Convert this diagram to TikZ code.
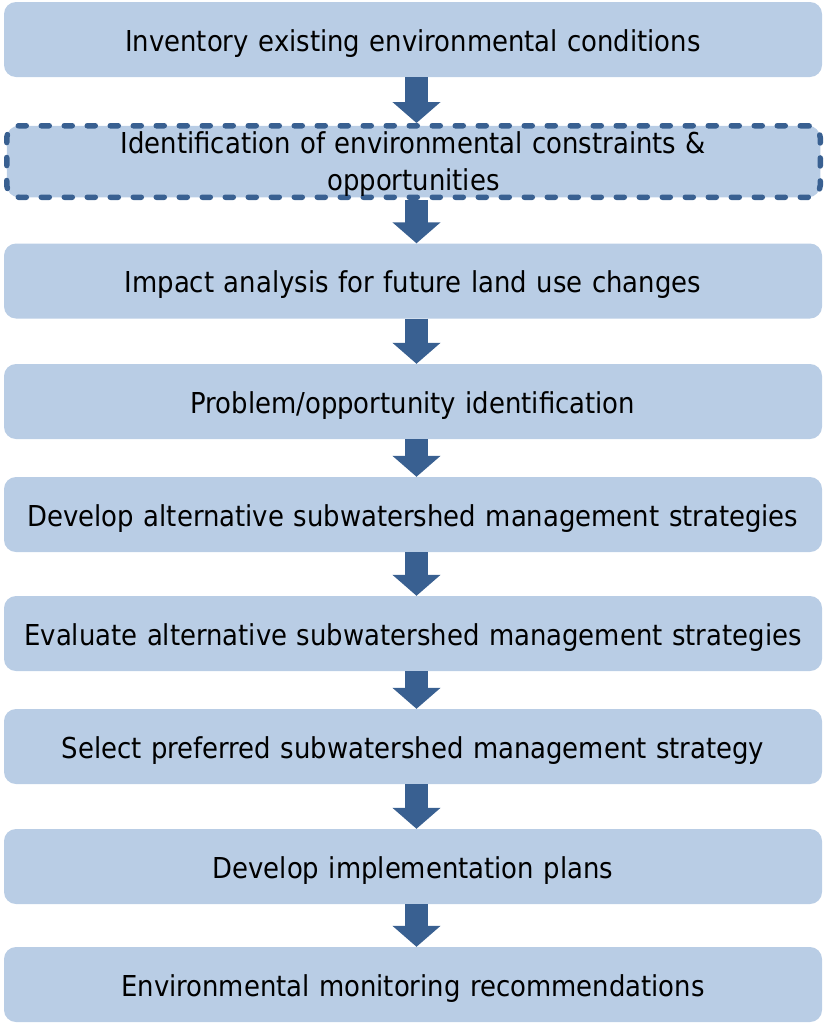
\documentclass[tikz,border=0pt]{standalone}
\usepackage{fontspec}
\setmainfont{DejaVu Sans Condensed}
\usetikzlibrary{arrows.meta}
\definecolor{boxfill}{RGB}{185,205,229}
\definecolor{arrowblue}{RGB}{57,96,145}

\begin{document}
\begin{tikzpicture}[x=1pt, y=1pt,
   stage/.style={fill=boxfill, rounded corners=12pt, minimum width=818pt, minimum height=75pt,
                 inner sep=0pt, text width=810pt, align=center, text height=23pt, text depth=0pt,
                 font=\fontsize{28.8}{37}\selectfont},
   dashstage/.style={stage, draw=arrowblue, line width=5.5pt, dash pattern=on 8pt off 15pt,
                 line cap=round, minimum width=813.5pt, minimum height=71.5pt, text depth=39pt},
   flow/.style={draw=arrowblue, line width=23pt, -{Triangle[width=47pt, length=21pt]}}]

\useasboundingbox (0,0) rectangle (825,-1023);

\node[stage] (inventory) at (413,-39.5) {Inventory existing environmental conditions};
\node[dashstage] (constraints) at (413.5,-161.5) {Identification of environmental constraints \&\\ opportunities};
\node[stage] (impact) at (413,-281) {Impact analysis for future land use changes};
\node[stage] (problem) at (413,-401.5) {Problem/opportunity identification};
\node[stage] (develop) at (413,-514.5) {Develop alternative subwatershed management strategies};
\node[stage] (evaluate) at (413,-633.5) {Evaluate alternative subwatershed management strategies};
\node[stage] (select) at (413,-746.5) {Select preferred subwatershed management strategy};
\node[stage] (plans) at (413,-866.5) {Develop implementation plans};
\node[stage] (monitor) at (413,-984.5) {Environmental monitoring recommendations};

\draw[flow] ([xshift=3.5pt]inventory.south) -- ([xshift=3pt]constraints.north);
\draw[flow] ([xshift=3pt]constraints.south) -- ([xshift=3.5pt]impact.north);
\draw[flow] ([xshift=3.5pt]impact.south) -- ([xshift=3.5pt]problem.north);
\draw[flow] ([xshift=3.5pt]problem.south) -- ([xshift=3.5pt]develop.north);
\draw[flow] ([xshift=3.5pt]develop.south) -- ([xshift=3.5pt]evaluate.north);
\draw[flow] ([xshift=3.5pt]evaluate.south) -- ([xshift=3.5pt]select.north);
\draw[flow] ([xshift=3.5pt]select.south) -- ([xshift=3.5pt]plans.north);
\draw[flow] ([xshift=3.5pt]plans.south) -- ([xshift=3.5pt]monitor.north);

\end{tikzpicture}
\end{document}
